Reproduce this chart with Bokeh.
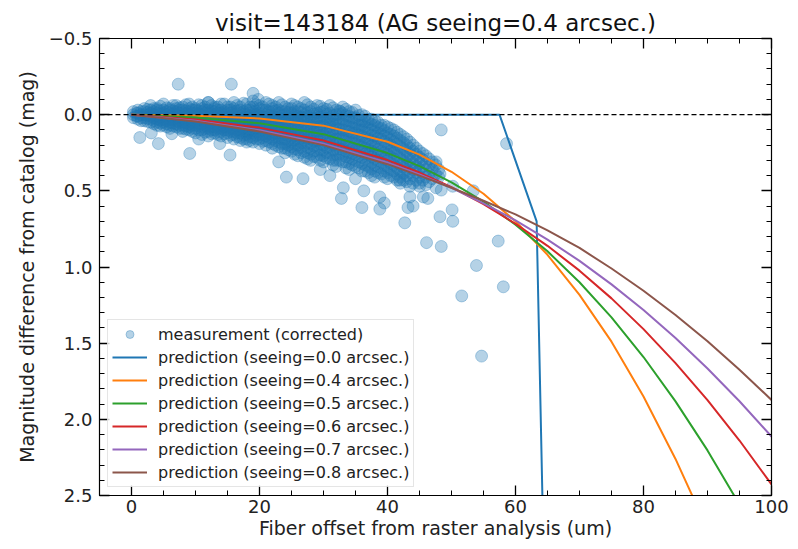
from bokeh.plotting import figure
from bokeh.models import (Range1d, LinearAxis, Span, Legend, LegendItem,
                          CustomJSTickFormatter, SingleIntervalTicker, ColumnDataSource)
from bokeh.embed import file_html
from bokeh.resources import INLINE

title_text = "visit=143184 (AG seeing=0.4 arcsec.)"
x_label = "Fiber offset from raster analysis (um)"
y_label = "Magnitude difference from catalog (mag)"

# ---- measurements: dense band, listed column by column (x, then the y values seen there)
band_x = [0.3, 1, 2, 3, 4, 5, 6, 7, 8, 9, 10, 11, 12, 13, 14, 15, 16, 17, 18, 19, 20,
          21, 22, 23, 24, 25, 26, 27, 28, 29, 30, 31, 32, 33, 34, 35, 36, 37, 38, 39,
          40, 41, 42, 43, 44, 45, 46, 47, 48]
band_y = [
    [-0.02, 0.0, 0.02],
    [-0.03, -0.01, 0.01, 0.03],
    [-0.04, -0.02, 0.0, 0.02, 0.04],
    [-0.06, -0.03, -0.01, 0.01, 0.03, 0.05],
    [-0.04, -0.03, -0.01, 0.01, 0.03, 0.05, 0.07],
    [-0.07, -0.03, -0.01, 0.01, 0.03, 0.05, 0.07],
    [-0.04, -0.03, -0.01, 0.01, 0.03, 0.05, 0.07, 0.09],
    [-0.06, -0.04, -0.02, 0.0, 0.02, 0.04, 0.06, 0.08],
    [-0.05, -0.03, -0.01, 0.01, 0.03, 0.05, 0.07, 0.09, 0.11],
    [-0.07, -0.04, -0.02, 0.0, 0.02, 0.04, 0.06, 0.08, 0.1],
    [-0.04, -0.03, -0.01, 0.01, 0.03, 0.05, 0.07, 0.09, 0.12],
    [-0.06, -0.04, -0.02, 0.0, 0.02, 0.04, 0.06, 0.08, 0.1, 0.13],
    [-0.08, -0.03, -0.01, 0.01, 0.03, 0.05, 0.07, 0.09, 0.11, 0.14],
    [-0.05, -0.04, -0.02, 0.0, 0.02, 0.04, 0.06, 0.08, 0.1, 0.12],
    [-0.07, -0.03, -0.01, 0.01, 0.03, 0.05, 0.07, 0.09, 0.11, 0.14],
    [-0.05, -0.03, -0.01, 0.02, 0.04, 0.06, 0.08, 0.1, 0.12, 0.15],
    [-0.08, -0.04, -0.02, 0.0, 0.02, 0.04, 0.06, 0.09, 0.11, 0.13, 0.16],
    [-0.05, -0.03, -0.01, 0.01, 0.03, 0.05, 0.08, 0.1, 0.12, 0.15, 0.17],
    [-0.07, -0.03, 0.0, 0.02, 0.04, 0.06, 0.09, 0.11, 0.13, 0.16],
    [-0.09, -0.05, -0.02, 0.0, 0.03, 0.05, 0.07, 0.1, 0.12, 0.15, 0.18],
    [-0.06, -0.04, -0.01, 0.01, 0.04, 0.06, 0.08, 0.11, 0.13, 0.16, 0.19],
    [-0.08, -0.03, 0.0, 0.02, 0.05, 0.07, 0.09, 0.12, 0.14, 0.17, 0.2],
    [-0.06, -0.04, -0.02, 0.01, 0.03, 0.06, 0.08, 0.11, 0.13, 0.16, 0.19, 0.22],
    [-0.08, -0.03, -0.01, 0.02, 0.04, 0.07, 0.09, 0.12, 0.15, 0.18, 0.21],
    [-0.05, -0.02, 0.0, 0.03, 0.05, 0.08, 0.1, 0.13, 0.16, 0.19, 0.22, 0.25],
    [-0.07, -0.04, -0.01, 0.02, 0.04, 0.07, 0.1, 0.12, 0.15, 0.18, 0.21, 0.24],
    [-0.05, -0.02, 0.01, 0.03, 0.06, 0.09, 0.11, 0.14, 0.17, 0.2, 0.23, 0.27],
    [-0.08, -0.03, 0.0, 0.02, 0.05, 0.08, 0.11, 0.14, 0.17, 0.2, 0.24, 0.28],
    [-0.05, -0.02, 0.01, 0.04, 0.07, 0.1, 0.13, 0.16, 0.19, 0.22, 0.26, 0.3],
    [-0.06, -0.01, 0.02, 0.05, 0.08, 0.11, 0.14, 0.17, 0.2, 0.24, 0.28],
    [-0.04, -0.02, 0.01, 0.04, 0.07, 0.1, 0.13, 0.16, 0.2, 0.23, 0.27, 0.31],
    [-0.06, -0.01, 0.02, 0.05, 0.08, 0.11, 0.15, 0.18, 0.21, 0.25, 0.29],
    [-0.03, 0.0, 0.03, 0.06, 0.09, 0.12, 0.16, 0.19, 0.22, 0.26, 0.3, 0.34],
    [-0.05, -0.01, 0.03, 0.06, 0.1, 0.13, 0.16, 0.2, 0.23, 0.27, 0.31],
    [-0.02, 0.01, 0.04, 0.08, 0.11, 0.14, 0.18, 0.21, 0.25, 0.28, 0.32, 0.36],
    [-0.03, 0.02, 0.06, 0.09, 0.12, 0.16, 0.19, 0.23, 0.26, 0.3, 0.34],
    [0.0, 0.04, 0.07, 0.1, 0.14, 0.17, 0.21, 0.24, 0.28, 0.32, 0.37],
    [0.03, 0.05, 0.09, 0.12, 0.16, 0.19, 0.23, 0.26, 0.3, 0.34, 0.38],
    [0.04, 0.07, 0.11, 0.14, 0.18, 0.21, 0.25, 0.29, 0.33, 0.37, 0.41],
    [0.07, 0.09, 0.13, 0.16, 0.2, 0.24, 0.27, 0.31, 0.35, 0.39],
    [0.08, 0.12, 0.15, 0.19, 0.23, 0.26, 0.3, 0.34, 0.38, 0.42],
    [0.1, 0.14, 0.18, 0.22, 0.25, 0.29, 0.33, 0.37, 0.41],
    [0.13, 0.17, 0.21, 0.25, 0.29, 0.33, 0.37, 0.41, 0.45],
    [0.16, 0.2, 0.24, 0.28, 0.32, 0.36, 0.4, 0.44],
    [0.2, 0.24, 0.28, 0.32, 0.36, 0.4, 0.45],
    [0.24, 0.28, 0.32, 0.36, 0.41, 0.45],
    [0.27, 0.32, 0.36, 0.41, 0.46],
    [0.31, 0.36, 0.42],
    [0.36, 0.41],
]

# second, staggered set of columns in the same band
band2_x = [0.8, 1.5, 2.5, 3.5, 4.5, 5.5, 6.5, 7.5, 8.5, 9.5, 10.5, 11.5, 12.5, 13.5, 14.5,
           15.5, 16.5, 17.5, 18.5, 19.5, 20.5, 21.5, 22.5, 23.5, 24.5, 25.5, 26.5, 27.5,
           28.5, 29.5, 30.5, 31.5, 32.5, 33.5, 34.5, 35.5, 36.5, 37.5, 38.5, 39.5, 40.5,
           41.5, 42.5, 43.5, 44.5, 45.5, 46.5, 47.5]
band2_y = [
    [-0.01, 0.01],
    [-0.02, 0.0, 0.02, 0.04],
    [-0.035, -0.015, 0.005, 0.025, 0.045],
    [-0.04, -0.02, 0.0, 0.02, 0.04, 0.06],
    [-0.055, -0.025, -0.005, 0.015, 0.035, 0.055, 0.075],
    [-0.045, -0.02, 0.0, 0.02, 0.04, 0.06, 0.08],
    [-0.06, -0.025, -0.005, 0.015, 0.035, 0.055, 0.075],
    [-0.045, -0.03, -0.01, 0.01, 0.03, 0.05, 0.07, 0.09],
    [-0.065, -0.025, -0.005, 0.015, 0.035, 0.055, 0.075, 0.095],
    [-0.05, -0.03, -0.01, 0.01, 0.03, 0.05, 0.07, 0.09, 0.11],
    [-0.065, -0.025, -0.005, 0.015, 0.035, 0.055, 0.075, 0.1],
    [-0.05, -0.03, -0.01, 0.01, 0.03, 0.05, 0.07, 0.09, 0.115],
    [-0.06, -0.025, -0.005, 0.015, 0.035, 0.055, 0.08, 0.1, 0.125],
    [-0.05, -0.03, -0.01, 0.01, 0.03, 0.05, 0.07, 0.09, 0.11, 0.13],
    [-0.07, -0.02, 0.0, 0.02, 0.04, 0.06, 0.08, 0.1, 0.125],
    [-0.05, -0.03, -0.01, 0.01, 0.03, 0.05, 0.07, 0.09, 0.11, 0.135],
    [-0.06, -0.025, -0.005, 0.015, 0.035, 0.055, 0.075, 0.1, 0.12, 0.145],
    [-0.075, -0.02, 0.0, 0.02, 0.045, 0.065, 0.09, 0.11, 0.135, 0.16],
    [-0.05, -0.03, -0.01, 0.01, 0.03, 0.055, 0.075, 0.1, 0.12, 0.145, 0.17],
    [-0.065, -0.02, 0.0, 0.02, 0.045, 0.065, 0.09, 0.11, 0.135, 0.16],
    [-0.05, -0.03, -0.005, 0.015, 0.04, 0.06, 0.085, 0.105, 0.13, 0.15, 0.175],
    [-0.07, -0.02, 0.005, 0.03, 0.05, 0.075, 0.1, 0.125, 0.15, 0.18],
    [-0.05, -0.025, 0.0, 0.02, 0.045, 0.07, 0.095, 0.12, 0.145, 0.17, 0.2],
    [-0.065, -0.02, 0.005, 0.03, 0.055, 0.08, 0.105, 0.13, 0.16, 0.19, 0.22],
    [-0.04, -0.015, 0.01, 0.035, 0.06, 0.09, 0.115, 0.14, 0.17, 0.2, 0.23],
    [-0.06, -0.02, 0.005, 0.03, 0.055, 0.085, 0.11, 0.135, 0.165, 0.195, 0.225, 0.26],
    [-0.04, -0.015, 0.015, 0.04, 0.07, 0.1, 0.125, 0.155, 0.185, 0.215, 0.25],
    [-0.065, -0.015, 0.01, 0.035, 0.065, 0.095, 0.125, 0.155, 0.185, 0.215, 0.25, 0.29],
    [-0.035, -0.005, 0.025, 0.055, 0.085, 0.115, 0.145, 0.175, 0.205, 0.24, 0.275],
    [-0.055, -0.015, 0.015, 0.045, 0.075, 0.105, 0.135, 0.165, 0.195, 0.23, 0.265, 0.3],
    [-0.035, -0.005, 0.025, 0.055, 0.09, 0.12, 0.15, 0.18, 0.215, 0.25, 0.285],
    [-0.045, 0.005, 0.035, 0.065, 0.1, 0.13, 0.165, 0.195, 0.23, 0.265, 0.3, 0.33],
    [-0.025, -0.005, 0.03, 0.06, 0.095, 0.125, 0.16, 0.19, 0.225, 0.26, 0.3],
    [-0.035, 0.005, 0.04, 0.07, 0.105, 0.14, 0.17, 0.205, 0.24, 0.275, 0.31, 0.35],
    [-0.015, 0.02, 0.05, 0.085, 0.12, 0.15, 0.185, 0.22, 0.255, 0.29, 0.33],
    [0.005, 0.035, 0.07, 0.1, 0.135, 0.17, 0.2, 0.235, 0.27, 0.31, 0.35],
    [0.01, 0.045, 0.08, 0.115, 0.15, 0.185, 0.22, 0.255, 0.29, 0.33, 0.37],
    [0.03, 0.065, 0.1, 0.135, 0.17, 0.205, 0.24, 0.275, 0.315, 0.355, 0.4],
    [0.05, 0.085, 0.12, 0.155, 0.19, 0.23, 0.265, 0.3, 0.34, 0.38],
    [0.07, 0.105, 0.14, 0.175, 0.215, 0.25, 0.29, 0.33, 0.37, 0.41],
    [0.09, 0.13, 0.165, 0.2, 0.24, 0.28, 0.32, 0.36, 0.4],
    [0.115, 0.155, 0.195, 0.235, 0.27, 0.31, 0.35, 0.39, 0.43],
    [0.145, 0.185, 0.225, 0.265, 0.305, 0.345, 0.385, 0.43],
    [0.18, 0.22, 0.26, 0.3, 0.34, 0.38, 0.42],
    [0.22, 0.26, 0.3, 0.34, 0.38, 0.43],
    [0.255, 0.295, 0.34, 0.385, 0.43],
    [0.29, 0.34, 0.39, 0.44],
    [0.33, 0.39],
]

# ---- measurements: isolated points
out_x = [1.3, 3.1, 4.2, 6.3, 9.1, 7.3, 15.6, 15.4, 19.0, 19.8, 13.8, 18.0, 23.0, 24.2,
         26.8, 33.1, 32.8, 36.0, 36.3, 38.8, 39.5, 38.8, 42.7, 43.2, 43.5, 43.5, 45.0,
         46.3, 47.6, 46.1, 48.4, 48.2, 50.1, 50.2, 48.4, 50.2, 53.4, 53.9, 57.3, 48.4,
         58.6, 51.6, 58.1, 54.7, 41.9, 45.6, 44.0, 47.6, 48.2, 32.6, 29.5, 31.0, 12.0,
         10.5, 35.0]
out_y = [0.15, 0.12, 0.19, 0.125, 0.255, -0.2, -0.2, 0.265, -0.14, -0.1, 0.19, 0.18, 0.31,
         0.41, 0.42, 0.48, 0.55, 0.61, 0.5, 0.54, 0.58, 0.62, 0.71, 0.61, 0.47, 0.54, 0.47,
         0.55, 0.48, 0.84, 0.865, 0.67, 0.625, 0.70, 0.495, 0.47, 0.50, 0.99, 0.83, 0.10,
         0.19, 1.19, 1.13, 1.585, 0.43, 0.54, 0.6, 0.31, 0.39, -0.02, 0.36, 0.4, -0.08,
         0.16, 0.42]

# ---- predictions
pred0_x = [0, 57.5, 63.3, 64.45]
pred0_y = [0, 0, 0.70, 3.0]

pred_x = [0, 10, 20, 30, 40, 45, 50, 55, 60, 65, 70, 75, 80, 85, 90, 95, 100]
pred_04 = [0, 0.007, 0.025, 0.072, 0.178, 0.262, 0.375, 0.519, 0.70, 0.92, 1.183, 1.49,
           1.85, 2.26, 2.72, 3.2, 3.7]
pred_05 = [0, 0.018, 0.056, 0.128, 0.252, 0.338, 0.444, 0.571, 0.722, 0.897, 1.10, 1.331,
           1.591, 1.882, 2.204, 2.56, 2.95]
pred_06 = [0, 0.031, 0.085, 0.170, 0.298, 0.380, 0.476, 0.587, 0.716, 0.861, 1.024, 1.206,
           1.408, 1.631, 1.874, 2.139, 2.427]
pred_07 = [0, 0.040, 0.102, 0.191, 0.316, 0.393, 0.481, 0.582, 0.694, 0.820, 0.960, 1.114,
           1.282, 1.466, 1.666, 1.881, 2.113]
pred_08 = [0, 0.045, 0.11, 0.20, 0.325, 0.40, 0.48, 0.565, 0.655, 0.76, 0.875, 1.01,
           1.156, 1.315, 1.487, 1.674, 1.873]

labels = ["measurement (corrected)",
          "prediction (seeing=0.0 arcsec.)",
          "prediction (seeing=0.4 arcsec.)",
          "prediction (seeing=0.5 arcsec.)",
          "prediction (seeing=0.6 arcsec.)",
          "prediction (seeing=0.7 arcsec.)",
          "prediction (seeing=0.8 arcsec.)"]
colors = ["#1f77b4", "#1f77b4", "#ff7f0e", "#2ca02c", "#d62728", "#9467bd", "#8c564b"]

FONT = "DejaVu Sans"

meas_x, meas_y = [], []
for bx, by in [(band_x, band_y), (band2_x, band2_y)]:
    for cx, ys in zip(bx, by):
        for yy in ys:
            meas_x.append(cx)
            meas_y.append(yy)
meas_x += out_x
meas_y += out_y

p = figure(width=790, height=541, x_range=Range1d(-5, 100), y_range=Range1d(2.5, -0.5),
           output_backend="svg", toolbar_location=None,
           x_axis_location=None, y_axis_location=None,
           min_border_left=99, min_border_right=19, min_border_top=38, min_border_bottom=43)
p.grid.visible = False
p.outline_line_color = "black"
p.background_fill_color = "white"
p.border_fill_color = "white"

p.title.text = title_text
p.title.text_font = FONT
p.title.text_font_size = "23px"
p.title.text_font_style = "normal"
p.title.align = "center"
p.title.text_color = "#111111"
p.title.standoff = 5

src = ColumnDataSource(dict(x=meas_x, y=meas_y))
r_meas = p.scatter("x", "y", source=src, size=12, fill_color="#1f77b4", line_color="#1f77b4",
                   fill_alpha=0.33, line_alpha=0.33, line_width=1)

r0 = p.line(pred0_x, pred0_y, line_color=colors[1], line_width=2)
rs = [r_meas, r0]
for ys, c in zip([pred_04, pred_05, pred_06, pred_07, pred_08], colors[2:]):
    rs.append(p.line(pred_x, ys, line_color=c, line_width=2))

p.add_layout(Span(location=0, dimension="width", line_color="black", line_dash="5 3",
                  line_width=1.2))

# axes on all four sides, ticks pointing inward
yfmt = CustomJSTickFormatter(code="return (tick < 0 ? '\\u2212' : '') + Math.abs(tick).toFixed(1);")
ax_b = LinearAxis(ticker=SingleIntervalTicker(interval=20, num_minor_ticks=4), axis_label=x_label)
ax_t = LinearAxis(ticker=SingleIntervalTicker(interval=20, num_minor_ticks=4))
ax_l = LinearAxis(ticker=SingleIntervalTicker(interval=0.5, num_minor_ticks=5), formatter=yfmt,
                  axis_label=y_label)
ax_r = LinearAxis(ticker=SingleIntervalTicker(interval=0.5, num_minor_ticks=5))

for ax in [ax_b, ax_t, ax_l, ax_r]:
    ax.axis_line_color = "black"
    ax.axis_line_width = 1.2
    ax.major_tick_in = 10
    ax.major_tick_out = 0
    ax.minor_tick_in = 5
    ax.minor_tick_out = 0
    ax.major_tick_line_color = "black"
    ax.major_tick_line_width = 1.3
    ax.minor_tick_line_color = "black"
    ax.minor_tick_line_width = 1
    ax.major_label_text_font = FONT
    ax.major_label_text_font_size = "18px"
    ax.major_label_text_color = "#222222"
    ax.axis_label_text_font = FONT
    ax.axis_label_text_font_size = "19px"
    ax.axis_label_text_font_style = "normal"
    ax.axis_label_text_color = "#222222"

ax_b.major_label_standoff = 4
ax_b.axis_label_standoff = 1
ax_l.major_label_standoff = 7
ax_l.axis_label_standoff = 8
for ax in [ax_t, ax_r]:
    ax.major_label_text_color = None
    ax.major_label_text_font_size = "1px"
    ax.major_label_standoff = 0

p.add_layout(ax_b, "below")
p.add_layout(ax_l, "left")
p.add_layout(ax_t, "above")
p.add_layout(ax_r, "right")

items = [LegendItem(label=l, renderers=[r]) for l, r in zip(labels, rs)]
legend = Legend(items=items, location="bottom_left")
legend.label_text_font = FONT
legend.label_text_font_size = "16px"
legend.label_text_color = "#222222"
legend.glyph_width = 35
legend.glyph_height = 20
legend.label_height = 20
legend.spacing = 3
legend.padding = 4
legend.margin = 8
legend.label_standoff = 11
legend.border_line_color = "#cccccc"
legend.background_fill_alpha = 0.8
p.add_layout(legend)

open("out.html", "w").write(file_html(p, INLINE))
